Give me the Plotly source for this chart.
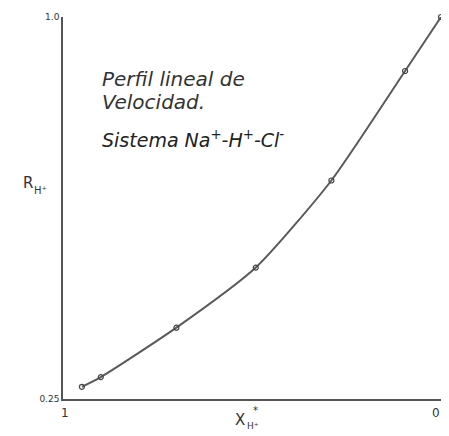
import plotly.graph_objects as go

# Data
x_h = [0.95, 0.90, 0.70, 0.49, 0.29, 0.095, 0.0]
r_h = [0.274, 0.293, 0.390, 0.508, 0.679, 0.894, 1.0]
x_tickvals = [1, 0]
x_ticktext = ["1", "0"]
y_tickvals = [0.25, 1.0]
y_ticktext = ["0.25", "1.0"]

# page body has an 8px margin; size the figure to fit the window
OFF = 8
W, H = 449 - OFF, 436 - OFF
L, R, T, B = 63 - OFF, 8, 17 - OFF, 37
pw, ph = W - L - R, H - T - B

def px(sx):
    return (sx - OFF - L) / pw

def py(sy):
    return (H - B - (sy - OFF)) / ph

fig = go.Figure()
fig.add_trace(go.Scatter(
    x=x_h, y=r_h, mode="lines+markers",
    line=dict(color="#5a5a5a", width=2, shape="spline", smoothing=0.6),
    marker=dict(symbol="circle-open", size=5, color="#444", line=dict(width=1.2)),
    hoverinfo="skip", showlegend=False, cliponaxis=False,
))

hand = "DejaVu Sans"
anns = [
    dict(xref="paper", yref="paper", x=px(100), y=py(79), text="<i>Perfil lineal de</i>",
         xanchor="left", yanchor="middle", align="left",
         font=dict(family=hand, size=20, color="#333")),
    dict(xref="paper", yref="paper", x=px(100), y=py(102), text="<i>Velocidad.</i>",
         xanchor="left", yanchor="middle", align="left",
         font=dict(family=hand, size=20, color="#333")),
    dict(xref="paper", yref="paper", x=px(100), y=py(139),
         text="<i>Sistema Na<sup>+</sup>-H<sup>+</sup>-Cl<sup>-</sup></i>",
         xanchor="left", yanchor="middle", align="left",
         font=dict(family=hand, size=19, color="#222")),
    dict(xref="paper", yref="paper", x=px(28), y=py(183), text="R",
         xanchor="center", yanchor="middle",
         font=dict(family=hand, size=15, color="#333")),
    dict(xref="paper", yref="paper", x=px(40), y=py(190), text="H⁺",
         xanchor="center", yanchor="middle",
         font=dict(family=hand, size=10, color="#333")),
    dict(xref="paper", yref="paper", x=px(240), y=py(420), text="X",
         xanchor="center", yanchor="middle",
         font=dict(family=hand, size=15, color="#333")),
    dict(xref="paper", yref="paper", x=px(255), y=py(410), text="*",
         xanchor="center", yanchor="middle",
         font=dict(family=hand, size=10, color="#333")),
    dict(xref="paper", yref="paper", x=px(253), y=py(426), text="H⁺",
         xanchor="center", yanchor="middle",
         font=dict(family=hand, size=9, color="#333")),
]
# x-axis tick labels drawn as annotations on the x scale
x_anchor = {1: "center", 0: "right"}
x_shift = {1: 2, 0: 1}
for v, t in zip(x_tickvals, x_ticktext):
    anns.append(dict(xref="x", yref="paper", x=v, y=py(413), text=t,
                     xanchor=x_anchor[v], yanchor="middle", xshift=x_shift[v],
                     font=dict(family=hand, size=12, color="#333")))
for a in anns:
    a.update(showarrow=False)

fig.update_layout(
    width=W, height=H,
    margin=dict(l=L, r=R, t=T, b=B),
    paper_bgcolor="white", plot_bgcolor="white",
    annotations=anns,
    xaxis=dict(range=[1, 0], showticklabels=False,
               automargin=False,
               showgrid=False, zeroline=False, showline=True, linecolor="#555",
               linewidth=1.5, ticks=""),
    yaxis=dict(range=[0.25, 1.0], tickvals=y_tickvals, ticktext=y_ticktext,
               automargin=False,
               showgrid=False, zeroline=False, showline=True, linecolor="#555",
               linewidth=1.5, ticks="", tickfont=dict(family=hand, size=9, color="#333")),
)

fig.write_html("out.html")
